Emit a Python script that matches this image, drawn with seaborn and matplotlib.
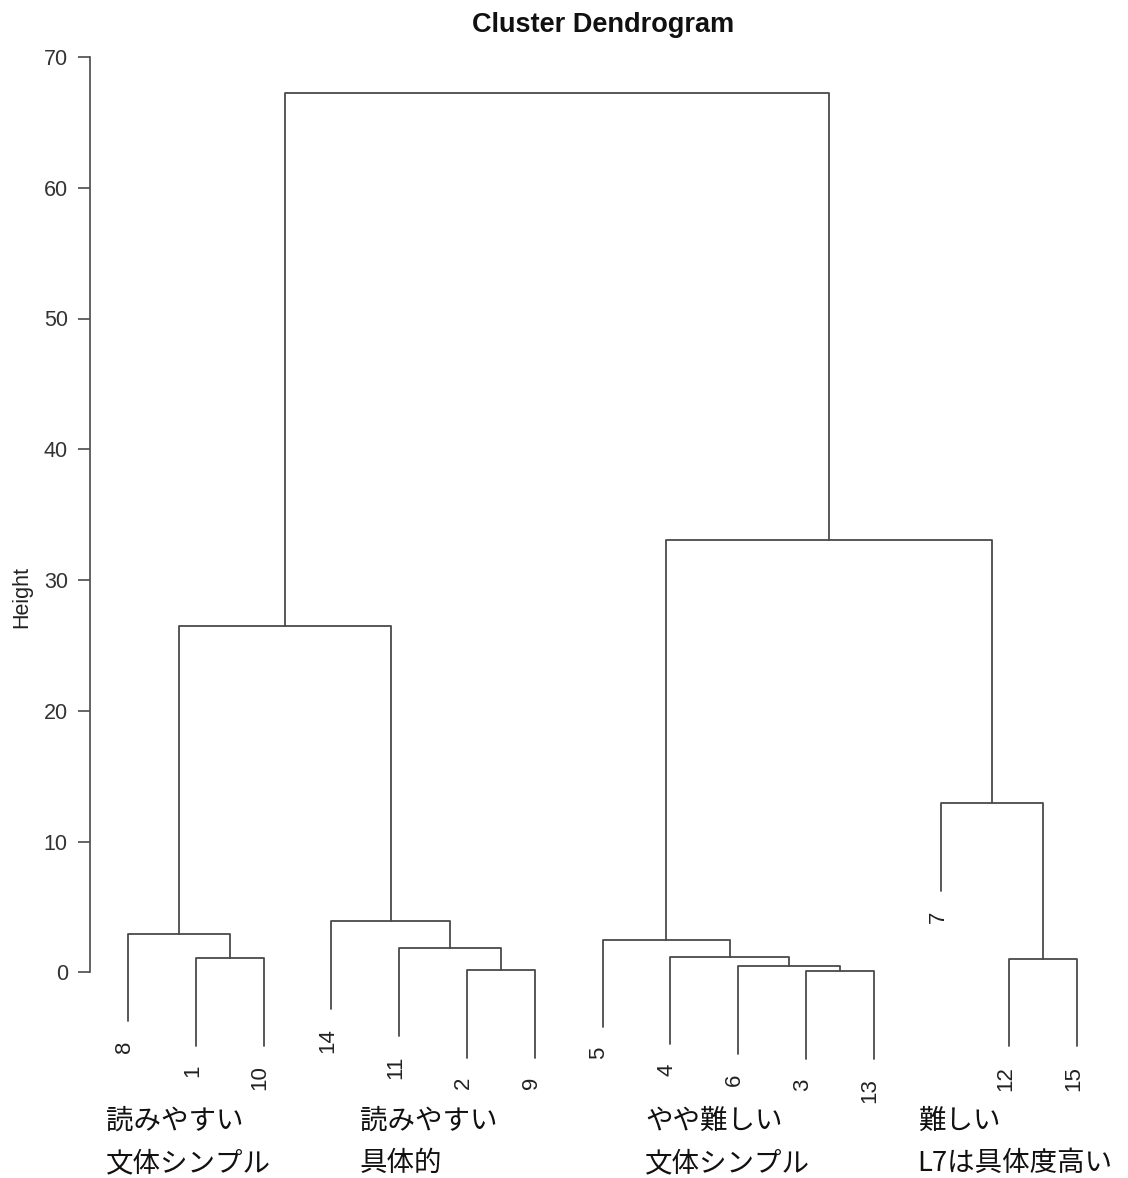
import matplotlib
matplotlib.use("Agg")
import matplotlib.pyplot as plt
import seaborn as sns
import numpy as np
import pandas as pd

# ---- data ----
leaf_order = [8, 1, 10, 14, 11, 2, 9, 5, 4, 6, 3, 13, 7, 12, 15]
# R-style merge matrix: negative = leaf (observation number), positive = earlier merge step
merge_a = [-3, -2, -6, -1, -12, -4, -11, -5, -8, -14, -7, 9, 8, 12]
merge_b = [-13, -9, 1, -10, -15, 3, 2, 6, 4, 7, 5, 10, 11, 13]
merge_height = [0.10, 0.20, 0.48, 1.12, 1.05, 1.20, 1.86, 2.50, 2.96, 3.93, 12.93, 26.47, 33.05, 67.25]
group_line1 = ["読みやすい", "読みやすい", "やや難しい", "難しい"]
group_line2 = ["文体シンプル", "具体的", "文体シンプル", "L7は具体度高い"]
group_x = [0.675, 4.42, 8.63, 12.65]
yticks = [0, 10, 20, 30, 40, 50, 60, 70]
title = "Cluster Dendrogram"
ylabel = "Height"

# ---- style ----
sns.set_style("white")
plt.rcParams["font.family"] = ["Liberation Sans", "DejaVu Sans"]
LINE = "#4a4a4a"

W, H = 1128, 1178
fig = plt.figure(figsize=(W / 100, H / 100), dpi=100)
ax = fig.add_axes([90 / W, (H - 1103) / H, 1025 / W, 1046 / H])

hang = 0.1 * max(merge_height)
leaf_x = {lab: i + 1 for i, lab in enumerate(leaf_order)}

segs = []
node_x = {}
leaf_bottom = {}
for k, (a, b, h) in enumerate(zip(merge_a, merge_b, merge_height), start=1):
    ends = []
    for c in (a, b):
        if c < 0:
            x = leaf_x[-c]
            yb = h - hang
            leaf_bottom[-c] = yb
        else:
            x = node_x[c]
            yb = merge_height[c - 1]
        ends.append((x, yb))
    (x1, y1), (x2, y2) = sorted(ends)
    node_x[k] = (x1 + x2) / 2
    xs = [x1, x1, x2, x2]
    ys = [y1, h, h, y2]
    for j, (xx, yy) in enumerate(zip(xs, ys)):
        segs.append({"seg": k, "order": j, "x": xx, "y": yy})

df = pd.DataFrame(segs)
sns.lineplot(data=df, x="x", y="y", units="seg", estimator=None, sort=False,
             color=LINE, linewidth=1.3, ax=ax, legend=False)

# leaf labels
for lab in leaf_order:
    ax.annotate(str(lab), (leaf_x[lab], leaf_bottom[lab]), xytext=(-2.5, -14),
                textcoords="offset points", rotation=90, ha="center", va="top",
                fontsize=16, color="#222222", annotation_clip=False)

# group annotations
for gx, l1, l2 in zip(group_x, group_line1, group_line2):
    ax.text(gx, -11.42, l1, ha="left", va="center", fontsize=19.8,
            family=["Noto Sans CJK JP", "DejaVu Sans"], color="#111111", clip_on=False)
    ax.text(gx, -14.62, l2, ha="left", va="center", fontsize=19.8,
            family=["Noto Sans CJK JP", "DejaVu Sans"], color="#111111", clip_on=False)

ax.set_xlim(0.44, 15.56)
ax.set_ylim(-10, 70)
ax.set_xticks([])
ax.set_yticks(yticks)
ax.set_yticklabels([str(t) for t in yticks], fontsize=15.5, color="#333333")
ax.tick_params(axis="y", direction="out", length=9, width=1.2, color=LINE, pad=7, left=True)
ax.set_xlabel("")
ax.set_ylabel("")
sns.despine(ax=ax, top=True, right=True, bottom=True, left=False)
ax.spines["left"].set_bounds(0, 70)
ax.spines["left"].set_color(LINE)
ax.spines["left"].set_linewidth(1.2)

fig.text(603 / W, 1 - 25 / H, title, ha="center", va="center", fontsize=19.5,
         fontweight="bold", color="#111111")
fig.text(22 / W, 1 - 597 / H, ylabel, ha="center", va="center", rotation=90,
         fontsize=15.5, color="#222222")

fig.savefig("out.png", dpi=100, facecolor="white")
